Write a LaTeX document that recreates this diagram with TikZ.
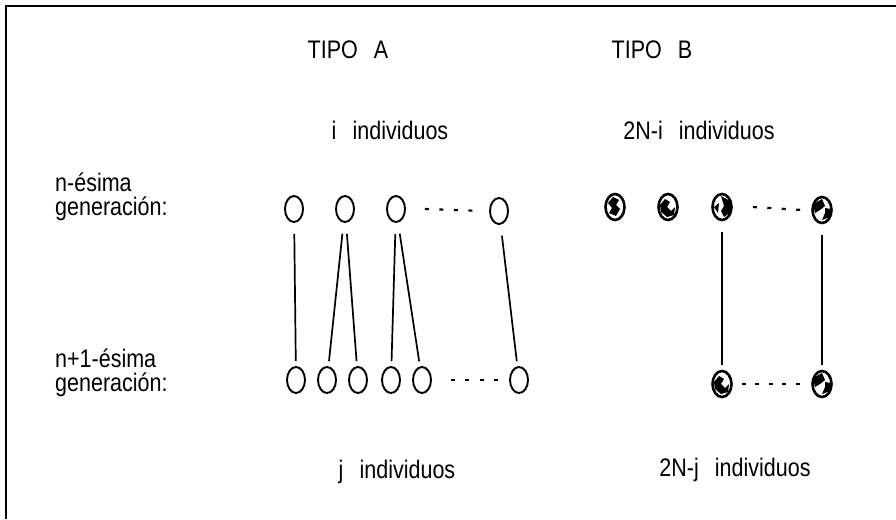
\documentclass[tikz,border=0pt]{standalone}
\usepackage{fontspec}
\setmainfont{Liberation Sans}
\usetikzlibrary{shapes.geometric}
\newcommand\tall[1]{\scalebox{1}[1.18]{#1}}
\newcommand\gap{\hspace{0.75em}}
\begin{document}
\begin{tikzpicture}[x=1pt,y=-1pt,
  lbl/.style={inner sep=0, font=\fontsize{21.5}{26}\selectfont},
  lblw/.style={lbl, anchor=west},
  ring/.style={ellipse, draw, line width=1.9pt, minimum width=18pt, minimum height=26pt, inner sep=0, fill=white},
  globe/.style={ring, line width=2.6pt, minimum width=19pt, minimum height=26pt},
  globeA/.style={globe, path picture={\fill[black, shift={(path picture bounding box.center)}]
      (-7,-4) -- (-2,-10) -- (4,-7) -- (1,-2) -- (5,2) -- (1,9) -- (-6,6) -- (-3,1) -- cycle;}},
  globeB/.style={globe, path picture={\fill[black, shift={(path picture bounding box.center)}]
      (-8,-2) -- (-3,-8) -- (2,-5) -- (-1,0) -- (3,4) -- (7,0) -- (6,8) -- (-1,10) -- (-7,5) -- cycle;}},
  globeC/.style={globe, path picture={\fill[black, shift={(path picture bounding box.center)}]
      (-1,-11) -- (8,-6) -- (9,5) -- (2,10) -- (-1,4) -- (2,-1) -- cycle
      (-8,0) -- (-3,-4) -- (-4,6) -- cycle;}},
  globeD/.style={globe, path picture={\fill[black, shift={(path picture bounding box.center)}]
      (-9,-6) -- (0,-11) -- (3,-4) -- (-2,0) -- (-7,3) -- cycle
      (3,-2) -- (9,-1) -- (8,7) -- (0,10) -- (3,3) -- cycle;}},
  link/.style={line width=1.7pt, shorten <=11pt, shorten >=5pt},
  dots/.style={line width=2.2pt, dash pattern=on 4pt off 10.5pt}]
\useasboundingbox (0,0) rectangle (896,519);
\draw[line width=2pt] (6,519) -- (6,6) -- (896,6);

% headings
\node[lbl] (tipoA) at (348,50) {\tall{TIPO\gap A}};
\node[lbl] (tipoB) at (652,50) {\tall{TIPO\gap B}};
\node[lbl] (ia) at (390,130) {\tall{i\gap individuos}};
\node[lbl] (ib) at (699,130) {\tall{2N-i\gap individuos}};
\node[lblw] (g1a) at (55,182) {\tall{n-ésima}};
\node[lblw] (g1b) at (55,209) {\tall{generación:}};
\node[lblw] (g2a) at (55,358) {\tall{n+1-ésima}};
\node[lblw] (g2b) at (55,385) {\tall{generación:}};
\node[lbl] (ja) at (397,472) {\tall{j\gap individuos}};
\node[lbl] (jb) at (735,470) {\tall{2N-j\gap individuos}};

% type A
\node[ring] (a1) at (294,209) {};
\node[ring] (a2) at (345,209) {};
\node[ring] (a3) at (396,209) {};
\node[ring] (a4) at (499,211) {};
\node[ring] (b1) at (296,380) {};
\node[ring] (b2) at (327,380) {};
\node[ring] (b3) at (358,380) {};
\node[ring] (b4) at (391,380) {};
\node[ring] (b5) at (422,380) {};
\node[ring] (b6) at (519,380) {};
\draw[dots] ([xshift=19pt]a3.east) -- ([xshift=-7pt]a4.west);
\draw[link] (a1) -- (b1);
\draw[link] (a2) -- (b2);
\draw[link] (a2) -- (b3);
\draw[link] (a3) -- (b4);
\draw[link] (a3) -- (b5);
\draw[link] (a4) -- (b6);
\draw[dots] ([xshift=19pt]b5.east) -- ([xshift=-8pt]b6.west);

% type B
\node[globeA] (c1) at (615,207) {};
\node[globeB] (c2) at (668,207) {};
\node[globeC] (c3) at (722,207) {};
\node[globeD] (c4) at (822,210) {};
\node[globeB] (e1) at (722,384) {};
\node[globeD] (e2) at (822,384) {};
\draw[dots] ([xshift=20pt]c3.east) -- ([xshift=-9pt]c4.west);
\draw[link] (c3) -- (e1);
\draw[link] (c4) -- (e2);
\draw[dots, dash pattern=on 4pt off 9.5pt] ([xshift=9pt]e1.east) -- ([xshift=-9pt]e2.west);
\end{tikzpicture}
\end{document}
